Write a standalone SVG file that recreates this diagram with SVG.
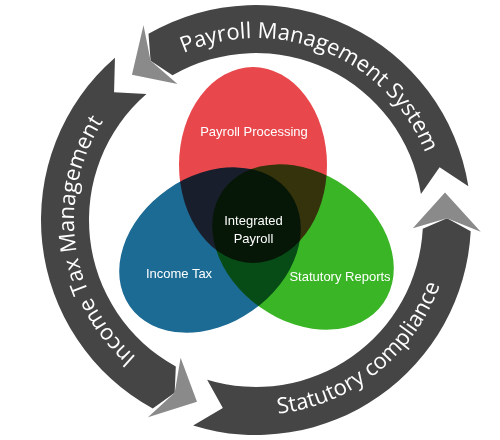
<svg xmlns="http://www.w3.org/2000/svg" width="500" height="440" viewBox="0 0 500 440">
<style>
.band{fill:#454545}
.head{fill:#8a8a8a}
.ring{font-family:"Open Sans","DejaVu Sans",sans-serif;font-size:22px;fill:#fff}
.venn{mix-blend-mode:multiply}
.lbl{font-family:"Liberation Sans",Arial,sans-serif;font-size:13px;fill:#fff;text-anchor:middle}
</style>
<defs>
<path id="tp-top" d="M127.31,91.31 A182,182 0 0 1 438,220"/>
<path id="tp-left" d="M224.40,399.24 A182,182 0 0 1 176.22,56.42"/>
<path id="tp-bottom" d="M158.5,388.88 A195,195 0 0 0 442.48,162.99"/>
</defs>
<rect width="500" height="440" fill="#fff"/>
<g id="venn">
  <g id="node-payroll-processing">
    <ellipse class="venn" cx="253" cy="165" rx="74" ry="98" fill="#e8474c"/>
  </g>
  <g id="node-income-tax">
    <ellipse class="venn" cx="0" cy="0" rx="98" ry="74" transform="translate(210,250) rotate(-35)" fill="#1b6b95"/>
  </g>
  <g id="node-statutory-reports">
    <ellipse class="venn" cx="0" cy="0" rx="98" ry="74" transform="translate(303,247) rotate(35)" fill="#3ab525"/>
  </g>
</g>
<g id="labels">
  <text class="lbl" x="254" y="136">Payroll Processing</text>
  <text class="lbl" x="179" y="278">Income Tax</text>
  <text class="lbl" x="340" y="281">Statutory Reports</text>
  <g id="node-integrated-payroll">
    <text class="lbl" x="253.5" y="225">Integrated</text>
    <text class="lbl" x="253.5" y="243">Payroll</text>
  </g>
</g>
<g id="connectors">
  <g id="arrow-payroll-management">
    <path class="band" d="M468.35,186.37 A215,215 0 0 0 148.5,33.80 L150.58,60.73 L172.5,75.37 A167,167 0 0 1 420.94,193.88 L439.60,167.35 Z"/>
    <path class="head" d="M143.5,25.14 L131.96,74.76 L177.5,84.03 L150.58,60.73 Z"/>
    <text class="ring"><textPath href="#tp-top" startOffset="50%" text-anchor="middle">Payroll Management System</textPath></text>
  </g>
  <g id="arrow-income-tax-management">
    <path class="band" d="M114.95,57.74 A215,215 0 0 0 152.75,408.59 L174.68,392.82 L175.80,366.48 A167,167 0 0 1 146.44,93.96 L114.06,92.20 Z"/>
    <path class="head" d="M147.95,417.36 L196.98,401.65 L180.61,357.71 L174.68,392.82 Z"/>
    <text class="ring"><textPath href="#tp-left" startOffset="50%" text-anchor="middle">Income Tax Management</textPath></text>
  </g>
  <g id="arrow-statutory-compliance">
    <path class="band" d="M193.14,425.60 A215,215 0 0 0 470.71,231.25 L446.99,218.33 L422.77,228.74 A167,167 0 0 1 207.17,379.70 L222.83,408.10 Z"/>
    <path class="head" d="M480.69,231.78 L445.0,192.43 L412.78,228.22 L446.99,218.33 Z"/>
    <text class="ring"><textPath href="#tp-bottom" startOffset="50%" text-anchor="middle">Statutory compliance</textPath></text>
  </g>
</g>
</svg>
